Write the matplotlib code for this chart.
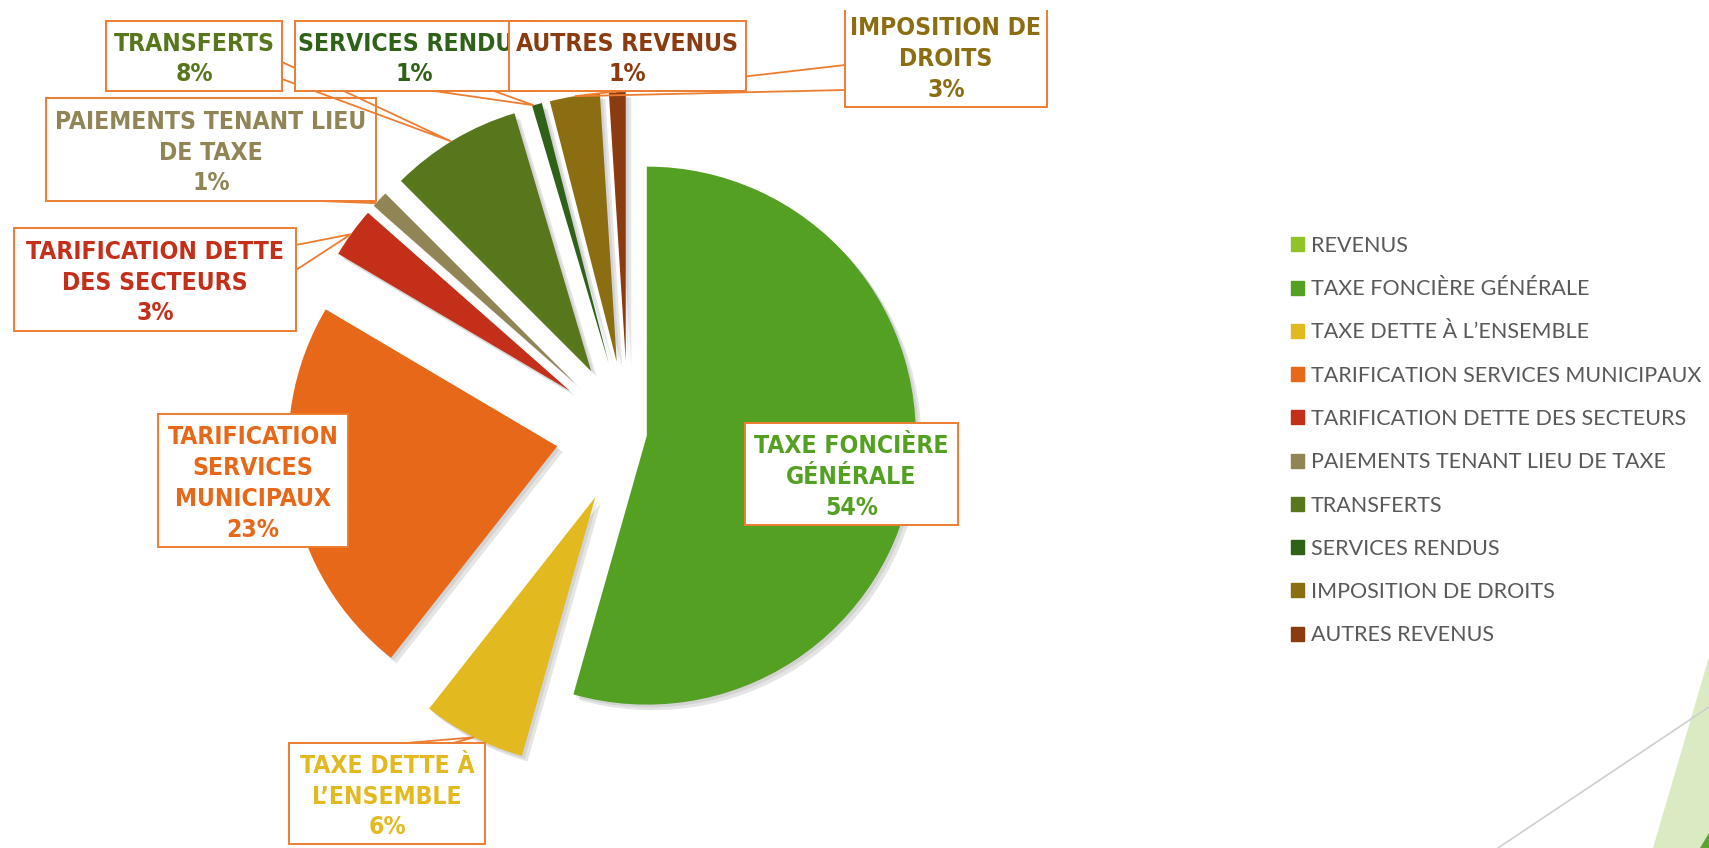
import os
import numpy as np
import matplotlib
matplotlib.use("Agg")
import matplotlib.pyplot as plt
from matplotlib import font_manager as fm
from matplotlib.patches import Rectangle, Polygon, Patch
import matplotlib.patheffects as pe

W, H = 1709, 848

# --- data (share of revenues, %) ---
names = ['REVENUS', 'TAXE FONCIÈRE GÉNÉRALE', 'TAXE DETTE À L’ENSEMBLE',
         'TARIFICATION SERVICES MUNICIPAUX', 'TARIFICATION DETTE DES SECTEURS',
         'PAIEMENTS TENANT LIEU DE TAXE', 'TRANSFERTS', 'SERVICES RENDUS',
         'IMPOSITION DE DROITS', 'AUTRES REVENUS']
shares = [0, 54.4, 6.2, 22.9, 3.0, 1.0, 7.9, 0.6, 3.0, 1.0]
colors = ['#92C22A', '#53A022', '#E3B920', '#E8681A', '#C42F1A',
          '#918455', '#58761C', '#306119', '#8B6E12', '#8B3B10']
# names as wrapped inside the callout boxes
wrapped = [None, 'TAXE FONCIÈRE\nGÉNÉRALE', 'TAXE DETTE À\nL’ENSEMBLE',
           'TARIFICATION\nSERVICES\nMUNICIPAUX', 'TARIFICATION DETTE\nDES SECTEURS',
           'PAIEMENTS TENANT LIEU\nDE TAXE', 'TRANSFERTS', 'SERVICES RENDUS',
           'IMPOSITION DE\nDROITS', 'AUTRES REVENUS']

# --- layout (pixels, y measured from the top) ---
pie_center = (628, 433)
pie_radius = 269
explode = [72, 19, 72, 72, 72, 72, 72, 72, 72, 72]
boxes = {1: (745, 423, 958, 525), 2: (289, 743, 485, 844),
         3: (158, 414, 348, 547), 4: (14, 228, 296, 331),
         5: (46, 98, 376, 201), 6: (106, 21, 282, 91),
         7: (295, 21, 533, 91), 8: (845, 5, 1047, 107),
         9: (509, 21, 746, 91)}
# callout pointer: two base points on the box, position along the slice arc
callouts = {2: ((406, 743), (453, 743), 0.49), 4: ((296, 245), (296, 270), 0.46),
            5: ((320, 201), (370, 201), 0.21), 6: ((282, 62), (282, 79), 0.48),
            7: ((434, 91), (494, 91), 0.17), 8: ((845, 65), (845, 90), 0.50),
            9: ((600, 91), (614, 91), 0.40)}

line_col = '#ED7D31'

# condensed bold face for the callouts if one is installed
narrow = None
for pref in ['LiberationSansNarrow-Bold.', 'DejaVuSansCondensed-Bold.',
             'NotoSans-CondensedBold.', 'NotoSansCondensed-Bold.',
             'RobotoCondensed-Bold.', 'OpenSans_Condensed-Bold.',
             'OpenSans-CondensedBold.']:
    for f in fm.fontManager.ttflist:
        if os.path.basename(f.fname).startswith(pref):
            narrow = f.fname
            break
    if narrow:
        break
if narrow:
    label_fp = fm.FontProperties(fname=narrow)
else:
    label_fp = fm.FontProperties(family='Roboto', weight='bold')


def fy(y):
    return H - y


fig = plt.figure(figsize=(W / 100, H / 100), dpi=100)
ax = fig.add_axes([0, 0, 1, 1])

# size the callout font so "TAXE FONCIÈRE" is ~194 px wide, as in the original
renderer = fig.canvas.get_renderer()
probe = fig.text(0, 0, 'TAXE FONCIÈRE', fontproperties=label_fp, fontsize=20)
pw = probe.get_window_extent(renderer).width
probe.remove()
label_size = 20 * 194 / pw

wedges, _ = ax.pie(shares, explode=explode, colors=colors, startangle=90,
                   counterclock=False, radius=pie_radius,
                   center=(pie_center[0], fy(pie_center[1])),
                   wedgeprops=dict(linewidth=0))
for w in wedges:
    w.set_zorder(2)
    w.set_path_effects([pe.SimplePatchShadow(offset=(4, -4), shadow_rgbFace='k', alpha=0.10),
                        pe.SimplePatchShadow(offset=(2, -2), shadow_rgbFace='k', alpha=0.08),
                        pe.Normal()])

ax.set_xlim(0, W)
ax.set_ylim(0, H)
ax.set_aspect('equal')
ax.axis('off')

# background decoration bottom right
ax.add_patch(Polygon([(1709, fy(657)), (1653, fy(848)), (1709, fy(848))],
                     closed=True, fc='#DAEAC3', ec='none', zorder=0))
ax.add_patch(Polygon([(1709, fy(833)), (1700, fy(848)), (1709, fy(848))],
                     closed=True, fc='#5DA233', ec='none', zorder=0))
ax.plot([1498, 1709], [fy(848), fy(707)], color='#CFCFCF', lw=1.2, zorder=0.5)

clip = Rectangle((0, 0), W, fy(10), transform=ax.transData)
total = sum(shares)
for k in range(1, len(names)):
    z = 10 + 3 * k
    x0, y0, x1, y1 = boxes[k]
    if k in callouts:
        b1, b2, f = callouts[k]
        w = wedges[k]
        a = np.deg2rad(w.theta2 - f * (w.theta2 - w.theta1))
        tip = (w.center[0] + w.r * np.cos(a), w.center[1] + w.r * np.sin(a))
        ax.add_patch(Polygon([(b1[0], fy(b1[1])), tip, (b2[0], fy(b2[1]))],
                             closed=False, fill=False, ec=line_col, lw=1.3, zorder=z))
    box = Rectangle((x0, fy(y1)), x1 - x0, y1 - y0, fc='white', ec=line_col,
                    lw=1.4, zorder=z + 1)
    ax.add_patch(box)
    box.set_clip_path(clip)
    pct = '{:.0f}%'.format(round(shares[k] / total * 100))
    t = ax.text((x0 + x1) / 2, fy((y0 + y1) / 2 + 3), wrapped[k] + '\n' + pct,
                ha='center', va='center', linespacing=1.36, fontproperties=label_fp,
                fontsize=label_size, color=colors[k], zorder=z + 2)
    if k == 7:
        # the next box hides the end of this label in the original
        t.set_clip_path(Rectangle((x0, fy(y1)), boxes[9][0] - x0, y1 - y0,
                                  transform=ax.transData))

handles = [Patch(color=c) for c in colors]
leg = ax.legend(handles, names, loc='upper left',
                bbox_to_anchor=(1291 / W, 1 - 236 / H), frameon=False,
                handlelength=0.62, handleheight=0.62, handletextpad=0.3,
                labelspacing=1.08, borderpad=0, borderaxespad=0,
                prop={'family': 'Lato', 'size': 15.5}, labelcolor='#595959')

fig.savefig('out.png', dpi=100, facecolor='white')
